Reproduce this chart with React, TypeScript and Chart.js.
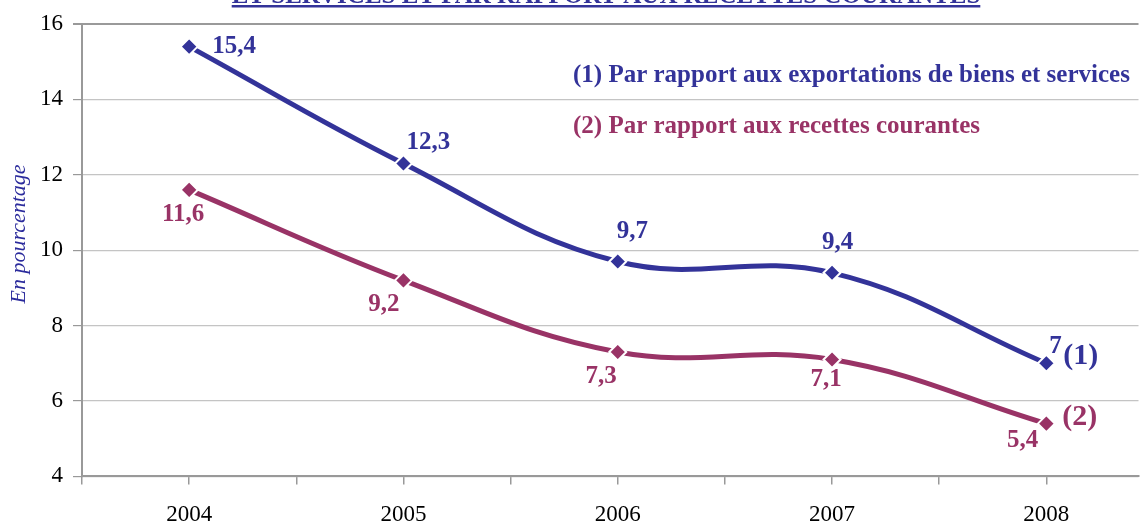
import React, { useEffect, useRef } from 'react';
import { Chart, registerables } from 'chart.js';

Chart.register(...registerables);

const years = [2004, 2005, 2006, 2007, 2008];
const exportsRatio = [15.4, 12.3, 9.7, 9.4, 7];
const revenueRatio = [11.6, 9.2, 7.3, 7.1, 5.4];
const xTickPositions = [2003.5, 2004, 2004.5, 2005, 2005.5, 2006, 2006.5, 2007, 2007.5, 2008];
const seriesNames = [
  '(1) Par rapport aux exportations de biens et services',
  '(2) Par rapport aux recettes courantes',
];
const seriesTags = ['(1)', '(2)'];
const titleText = 'ET SERVICES ET PAR RAPPORT AUX RECETTES COURANTES';
const yTitle = 'En pourcentage';

const BLUE = '#333399';
const PURPLE = '#993366';
const SERIF = '"Liberation Serif", "Times New Roman", serif';

// label placement: [dx, dy, align] relative to each point
const labelPlacement: [number, number, CanvasTextAlign][][] = [
  [[23, 0, 'left'], [3, -21, 'left'], [-1, -30, 'left'], [-10, -30, 'left'], [3, -17, 'left']],
  [[-6, 25, 'center'], [-4, 24, 'right'], [-1, 25, 'right'], [-6, 20, 'center'], [-8, 17, 'right']],
];
const tagOffset: [number, number][] = [[17, -7], [16, -6]];
const legendPos: [number, number][] = [[573, 76], [573, 127]];

const fmt = (v: number) => String(v).replace('.', ',');

const annotate = {
  id: 'annotate',
  afterDatasetsDraw(chart: any) {
    const ctx = chart.ctx as CanvasRenderingContext2D;
    ctx.save();
    const colors = [BLUE, PURPLE];
    chart.data.datasets.forEach((ds: any, i: number) => {
      const meta = chart.getDatasetMeta(i);
      ctx.fillStyle = colors[i];
      ctx.textBaseline = 'middle';
      ctx.font = `bold 25px ${SERIF}`;
      meta.data.forEach((pt: any, j: number) => {
        const [dx, dy, align] = labelPlacement[i][j];
        ctx.textAlign = align;
        ctx.fillText(fmt(ds.data[j].y), pt.x + dx, pt.y + dy);
      });
      const last = meta.data[meta.data.length - 1];
      ctx.textAlign = 'left';
      ctx.font = `bold 30px ${SERIF}`;
      ctx.fillText(seriesTags[i], last.x + tagOffset[i][0], last.y + tagOffset[i][1]);
      ctx.font = `bold 25px ${SERIF}`;
      ctx.fillText(seriesNames[i], legendPos[i][0], legendPos[i][1]);
    });

    // title (cut at top)
    ctx.fillStyle = BLUE;
    ctx.font = `bold 25px ${SERIF}`;
    ctx.textAlign = 'center';
    ctx.textBaseline = 'alphabetic';
    const cx = 606;
    ctx.fillText(titleText, cx, 3);
    const w = ctx.measureText(titleText).width;
    ctx.fillRect(cx - w / 2, 5, w, 2.5);

    // y title
    ctx.save();
    ctx.translate(19, 234);
    ctx.rotate(-Math.PI / 2);
    ctx.font = `italic 22px ${SERIF}`;
    ctx.fillStyle = '#2b2b9c';
    ctx.textAlign = 'center';
    ctx.textBaseline = 'middle';
    ctx.fillText(yTitle, 0, 0);
    ctx.restore();

    ctx.restore();
  },
};

export default function App() {
  const ref = useRef<HTMLCanvasElement | null>(null);
  useEffect(() => {
    document.body.style.margin = '0';
    const canvas = ref.current!;
    const mk = (vals: number[]) => years.map((x, k) => ({ x, y: vals[k] }));
    const line = (vals: number[], color: string) => ({
      data: mk(vals),
      borderColor: color,
      backgroundColor: color,
      borderWidth: 5,
      tension: 0.4,
      pointStyle: 'rectRot' as const,
      pointRadius: 8.5,
      pointBackgroundColor: color,
      pointBorderColor: '#ffffff',
      pointBorderWidth: 2,
      clip: false as any,
    });
    const chart = new Chart(canvas, {
      type: 'line',
      data: {
        datasets: [line(exportsRatio, BLUE), line(revenueRatio, PURPLE)],
      },
      options: {
        animation: false,
        responsive: false,
        layout: { padding: { left: 0, top: 24, right: 0, bottom: 0 } },
        plugins: { legend: { display: false }, tooltip: { enabled: false }, title: { display: false } },
        scales: {
          x: {
            type: 'linear',
            min: 2003.5,
            max: 2008.43,
            afterBuildTicks: (s: any) => {
              s.ticks = xTickPositions.map((value) => ({ value }));
            },
            grid: {
              drawOnChartArea: false,
              drawTicks: true,
              tickLength: 8,
              color: '#999999',
              lineWidth: 1.5,
            },
            border: { color: '#999999', width: 2 },
            ticks: {
              autoSkip: false,
              maxRotation: 0,
              padding: 17,
              color: '#000',
              font: { family: SERIF, size: 23 },
              callback: (v: any) => (Number.isInteger(v) ? String(v) : ''),
            },
          },
          y: {
            min: 4,
            max: 16,
            afterFit: (s: any) => {
              s.width = 82;
            },
            ticks: {
              stepSize: 2,
              padding: 10,
              color: '#000',
              font: { family: SERIF, size: 23 },
            },
            grid: {
              color: (c: any) => (c.tick && c.tick.value === 16 ? '#9a9a9a' : '#c4c4c4'),
              lineWidth: (c: any) => (c.tick && c.tick.value === 16 ? 2 : 1.2),
              tickColor: '#999999',
              tickLength: 9,
            },
            border: { color: '#999999', width: 2 },
          },
        },
      },
      plugins: [annotate],
    });
    return () => chart.destroy();
  }, []);
  return (
    <div style={{ position: 'absolute', left: 0, top: 0, width: 1141, height: 524, overflow: 'hidden', background: '#fff' }}>
      <canvas ref={ref} width={1149} height={546} style={{ display: 'block' }} />
    </div>
  );
}
